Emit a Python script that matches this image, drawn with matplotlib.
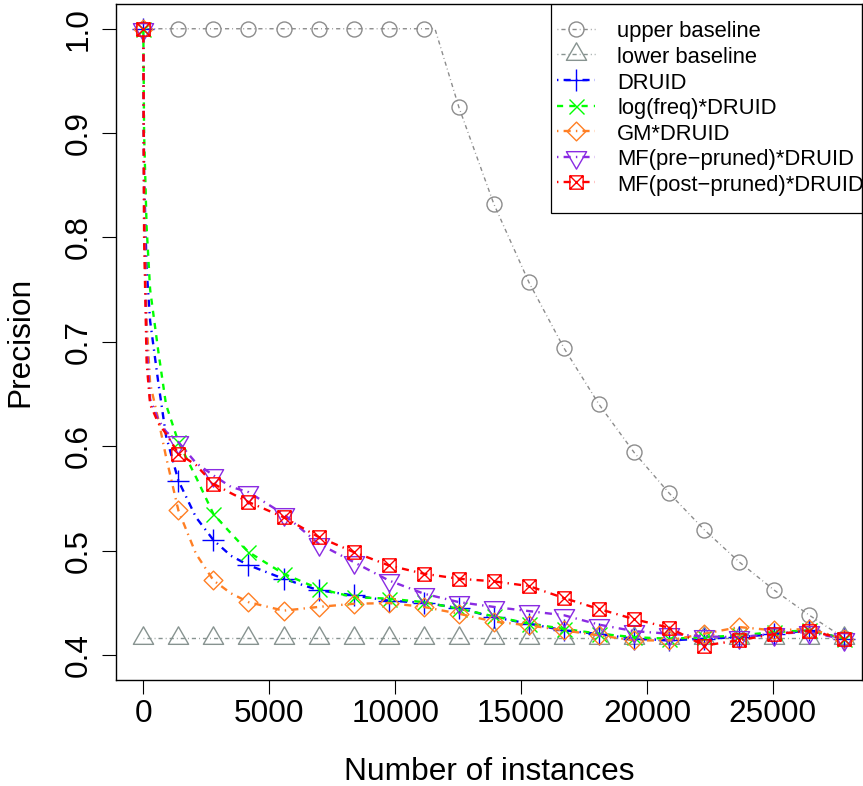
import matplotlib
matplotlib.use("Agg")
import matplotlib.pyplot as plt
from matplotlib.path import Path
from matplotlib.patches import Rectangle

plt.rcParams['font.family'] = ['Liberation Sans', 'DejaVu Sans']

# marker positions (every ~1392 instances)
x_marks = [0, 1392, 2784, 4176, 5568, 6960, 8352, 9744, 11136, 12528, 13920,
           15312, 16704, 18096, 19488, 20880, 22272, 23664, 25056, 26448, 27840]

# upper baseline: flat at 1.0 until the corner, then falling
x_upper = [0, 1392, 2784, 4176, 5568, 6960, 8352, 9744, 11136, 11580, 12528, 13920,
           15312, 16704, 18096, 19488, 20880, 22272, 23664, 25056, 26448, 27840]
upper = [1.0, 1.0, 1.0, 1.0, 1.0, 1.0, 1.0, 1.0, 1.0, 1.0, 0.925, 0.832,
         0.757, 0.694, 0.640, 0.594, 0.555, 0.520, 0.489, 0.462, 0.438, 0.416]
upper_marks = [i for i in range(len(x_upper)) if i != 9]

lower = [0.416] * len(x_marks)

# curves (dense at the start, where they fall steeply)
x_cur = [0, 30, 130, 270, 600, 900, 1392, 2088, 2784, 3480, 4176, 5568, 6960, 8352,
         9744, 11136, 12528, 13920, 15312, 16704, 18096, 19488, 20880, 22272, 23664,
         25056, 26448, 27840]
cur_marks = [0, 6, 8] + list(range(10, 28))

druid = [1.0, 0.86, 0.77, 0.72, 0.66, 0.61, 0.567, 0.532, 0.510, 0.495, 0.486, 0.473,
         0.462, 0.457, 0.452, 0.450, 0.445, 0.436, 0.430, 0.4235, 0.420, 0.4155, 0.414,
         0.4155, 0.417, 0.420, 0.4235, 0.4155]
logfreq = [1.0, 0.90, 0.81, 0.75, 0.69, 0.64, 0.604, 0.5705, 0.535, 0.5165, 0.4986, 0.4778,
           0.4635, 0.4554, 0.4539, 0.4506, 0.4443, 0.437, 0.430, 0.425, 0.4203, 0.417,
           0.4155, 0.417, 0.4187, 0.4219, 0.4235, 0.4155]
gm = [1.0, 0.84, 0.72, 0.66, 0.625, 0.59, 0.5385, 0.497, 0.4714, 0.459, 0.4506, 0.4424,
      0.446, 0.449, 0.4497, 0.446, 0.4395, 0.432, 0.4283, 0.4235, 0.4187, 0.4139, 0.4139,
      0.4203, 0.4267, 0.4235, 0.425, 0.4155]
mf_pre = [1.0, 0.82, 0.70, 0.645, 0.625, 0.614, 0.604, 0.584, 0.572, 0.561, 0.556, 0.535,
          0.5066, 0.489, 0.4714, 0.4587, 0.4506, 0.446, 0.442, 0.438, 0.429, 0.4228, 0.4203,
          0.4177, 0.417, 0.4203, 0.4219, 0.4149]
mf_post = [1.0, 0.80, 0.68, 0.64, 0.622, 0.612, 0.593, 0.582, 0.564, 0.555, 0.5465, 0.532,
           0.513, 0.4986, 0.4858, 0.4778, 0.473, 0.4705, 0.466, 0.4545, 0.444, 0.4343, 0.4261,
           0.409, 0.414, 0.420, 0.423, 0.4155]

labels = ["upper baseline", "lower baseline", "DRUID", "log(freq)*DRUID", "GM*DRUID",
          "MF(pre\u2212pruned)*DRUID", "MF(post\u2212pruned)*DRUID"]


def closed(pts):
    return Path(pts + [pts[0]], [Path.MOVETO] + [Path.LINETO] * (len(pts) - 1) + [Path.CLOSEPOLY])


# R-like symbols
tri_up = closed([(0, 1), (-0.866, -0.5), (0.866, -0.5)])
tri_down = closed([(0, -1), (-0.866, 0.5), (0.866, 0.5)])
diamond = closed([(0, 1), (1, 0), (0, -1), (-1, 0)])
boxtimes = Path([(-1, -1), (1, -1), (1, 1), (-1, 1), (-1, -1), (1, 1), (-1, 1), (1, -1)],
                [Path.MOVETO, Path.LINETO, Path.LINETO, Path.LINETO, Path.CLOSEPOLY,
                 Path.LINETO, Path.MOVETO, Path.LINETO])

dotdash = (0, (0.6, 2.2, 3.0, 2.2))
dashed = (0, (2.6, 2.6))
gray = "#8c8c8c"
gray2 = "#879390"

fig = plt.figure(figsize=(8.63, 7.86), dpi=100)
ax = fig.add_axes([0.1341, 0.1349, 0.999 - 0.1341, 0.9949 - 0.1349])

hs = []
hs += ax.plot(x_upper, upper, color=gray, lw=1.0, ls=dotdash, marker='o', ms=10.8,
              mfc='none', mec=gray, mew=1.0, markevery=upper_marks)
hs += ax.plot(x_marks, lower, color=gray2, lw=1.0, ls=dotdash, marker=tri_up, ms=16.8,
              mfc='none', mec=gray2, mew=1.0)
hs += ax.plot(x_cur, druid, color="#0000ff", lw=1.7, ls=dotdash, marker='+', ms=15.3,
              mew=1.0, markevery=cur_marks)
hs += ax.plot(x_cur, logfreq, color="#00ff00", lw=1.7, ls=dashed, marker='x', ms=10.8,
              mew=1.0, markevery=cur_marks)
hs += ax.plot(x_cur, gm, color="#ff7f24", lw=1.7, ls=dotdash, marker=diamond, ms=13.5,
              mfc='none', mew=1.0, markevery=cur_marks)
hs += ax.plot(x_cur, mf_pre, color="#8a2be2", lw=1.7, ls=dotdash, marker=tri_down, ms=16.8,
              mfc='none', mew=1.0, markevery=cur_marks)
hs += ax.plot(x_cur, mf_post, color="#ff0000", lw=1.7, ls=dotdash, marker=boxtimes, ms=9.6,
              mfc='none', mew=1.0, markevery=cur_marks)

ax.set_xlim(-1096, 28543)
ax.set_ylim(0.376, 1.0237)
ax.set_xticks([0, 5000, 10000, 15000, 20000, 25000])
ax.set_yticks([0.4, 0.5, 0.6, 0.7, 0.8, 0.9, 1.0])
ax.set_yticklabels(["0.4", "0.5", "0.6", "0.7", "0.8", "0.9", "1.0"],
                   rotation=90, va='center')
ax.tick_params(axis='both', length=10, width=0.8, labelsize=22.8, direction='out')
ax.tick_params(axis='x', pad=4)
ax.tick_params(axis='y', pad=6)
for s in ax.spines.values():
    s.set_linewidth(1.0)

ax.set_xlabel("Number of instances", fontsize=22.8, labelpad=20)
ax.set_ylabel("Precision", fontsize=22.8, labelpad=20)

leg = ax.legend(hs, labels, loc='upper left', bbox_to_anchor=(557 / 863, 1 - 20 / 786),
                bbox_transform=fig.transFigure, frameon=False, fontsize=15.8,
                borderpad=0, borderaxespad=0, handlelength=1.75, handletextpad=1.0,
                labelspacing=0.15, handleheight=1.0)
ax.add_patch(Rectangle((551 / 863, 1 - 213 / 786), (862.5 - 551) / 863, 210 / 786,
                       transform=fig.transFigure, fill=False, ec='black', lw=0.9,
                       zorder=5))

fig.savefig("out.png", dpi=100)
